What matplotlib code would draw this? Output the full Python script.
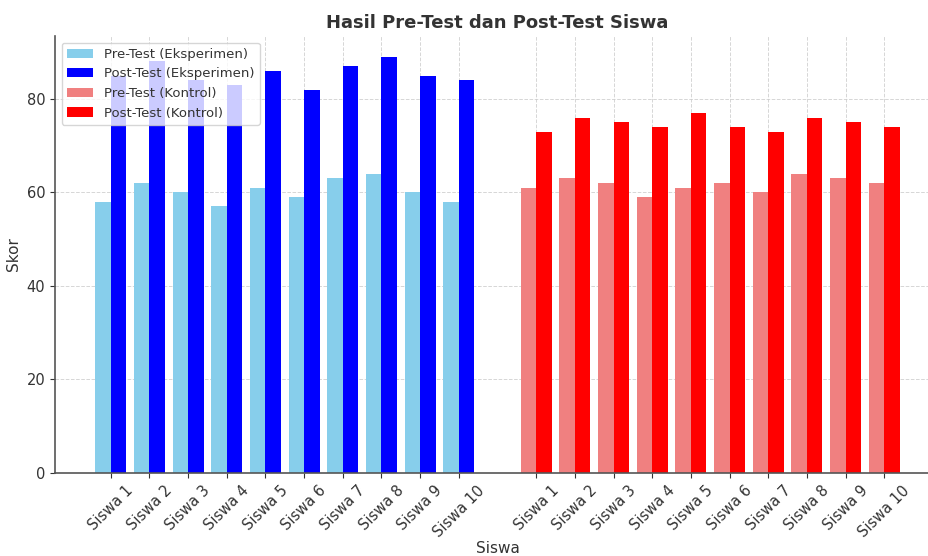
import numpy as np
import matplotlib.pyplot as plt

# Data
siswa = [f"Siswa {i}" for i in range(1, 11)]
pre_eksperimen = [58, 62, 60, 57, 61, 59, 63, 64, 60, 58]
post_eksperimen = [85, 88, 84, 83, 86, 82, 87, 89, 85, 84]
pre_kontrol = [61, 63, 62, 59, 61, 62, 60, 64, 63, 62]
post_kontrol = [73, 76, 75, 74, 77, 74, 73, 76, 75, 74]

plt.rcParams['font.family'] = 'DejaVu Sans'
plt.rcParams['text.color'] = '#333333'
plt.rcParams['axes.labelcolor'] = '#333333'
plt.rcParams['xtick.color'] = '#333333'
plt.rcParams['ytick.color'] = '#333333'

width = 0.4
x_eks = np.arange(len(siswa))
x_kon = x_eks + len(siswa) + 1

fig = plt.figure(figsize=(9.29, 5.56), dpi=100)
# axes runs past the right edge, as in the cropped reference
ax = fig.add_axes([55 / 929, 83 / 556, 885 / 929, 437 / 556])

ax.bar(x_eks - width / 2, pre_eksperimen, width, color='skyblue', label='Pre-Test (Eksperimen)')
ax.bar(x_eks + width / 2, post_eksperimen, width, color='blue', label='Post-Test (Eksperimen)')
ax.bar(x_kon - width / 2, pre_kontrol, width, color='lightcoral', label='Pre-Test (Kontrol)')
ax.bar(x_kon + width / 2, post_kontrol, width, color='red', label='Post-Test (Kontrol)')

ax.set_xticks(np.concatenate([x_eks, x_kon]))
ax.set_xticklabels(siswa + siswa, rotation=45, fontsize=10.5)
ax.tick_params(axis='y', labelsize=10.5)
ax.set_yticks([0, 20, 40, 60, 80])

ax.set_title('Hasil Pre-Test dan Post-Test Siswa', fontsize=13, fontweight='bold', pad=6)
ax.set_xlabel('Siswa', fontsize=11, labelpad=1)
ax.set_ylabel('Skor', fontsize=11)

ax.grid(True, linestyle='--', color='#cccccc', linewidth=0.7, alpha=0.8)
ax.set_axisbelow(True)
for side in ['top', 'right']:
    ax.spines[side].set_visible(False)
for side in ['left', 'bottom']:
    ax.spines[side].set_color('#555555')
    ax.spines[side].set_linewidth(1.2)

ax.legend(loc='upper left', fontsize=9.5)

plt.savefig('out.png', dpi=100)
